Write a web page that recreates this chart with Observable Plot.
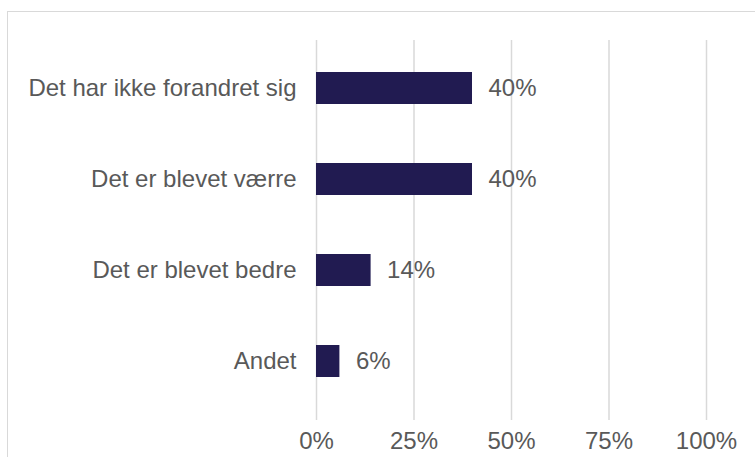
<!DOCTYPE html>
<html>
<head>
<meta charset="utf-8">
<script src="https://cdn.jsdelivr.net/npm/d3@7"></script>
<script src="https://cdn.jsdelivr.net/npm/@observablehq/plot@0.6"></script>
<style>
  html, body { margin: 0; padding: 0; background: #fff; overflow: hidden; }
  #wrap { position: relative; width: 755px; height: 457px; overflow: hidden; }
  #box { position: absolute; left: 7px; top: 11px; width: 800px; height: 500px; border: 1px solid #d9d9d9; box-sizing: border-box; }
  #chart { position: absolute; left: 0; top: 0; }
</style>
</head>
<body>
<div id="wrap"><div id="box"></div><div id="chart"></div></div>
<script>
const categories = ["Det har ikke forandret sig", "Det er blevet værre", "Det er blevet bedre", "Andet"];
const values = [0.40, 0.40, 0.14, 0.06];
const valueLabels = ["40%", "40%", "14%", "6%"];
const xTicks = [0, 0.25, 0.5, 0.75, 1];
const xTickLabels = ["0%", "25%", "50%", "75%", "100%"];

const data = categories.map((c, i) => ({category: c, value: values[i], label: valueLabels[i]}));

const chart = Plot.plot({
  width: 755,
  height: 457,
  marginLeft: 316,
  marginRight: 49,
  marginTop: 40,
  marginBottom: 37,
  style: {fontFamily: "'Liberation Sans', Arial, sans-serif", fontSize: "24px", color: "#595959", background: "transparent"},
  x: {domain: [0, 1], ticks: xTicks, tickSize: 0, tickPadding: 11, label: null},
  y: {domain: categories, range: [40, 409], paddingInner: 0.65, paddingOuter: 0.345, tickSize: 0, tickPadding: 20, label: null},
  marks: [
    Plot.gridX(xTicks, {stroke: "#d9d9d9", strokeOpacity: 1, strokeWidth: 1.5}),
    Plot.barX(data, {x: "value", y: "category", fill: "#211B51"}),
    Plot.text(data, {x: "value", y: "category", text: "label", dx: 16, textAnchor: "start", fill: "#595959", fontSize: 24}),
    Plot.axisX({ticks: xTicks, tickFormat: (d) => xTickLabels[xTicks.indexOf(d)], tickSize: 0, tickPadding: 11, fill: "#595959", fontSize: 24}),
    Plot.axisY({tickSize: 0, tickPadding: 20, fill: "#595959", fontSize: 24})
  ]
});
document.getElementById("chart").appendChild(chart);
</script>
</body>
</html>
